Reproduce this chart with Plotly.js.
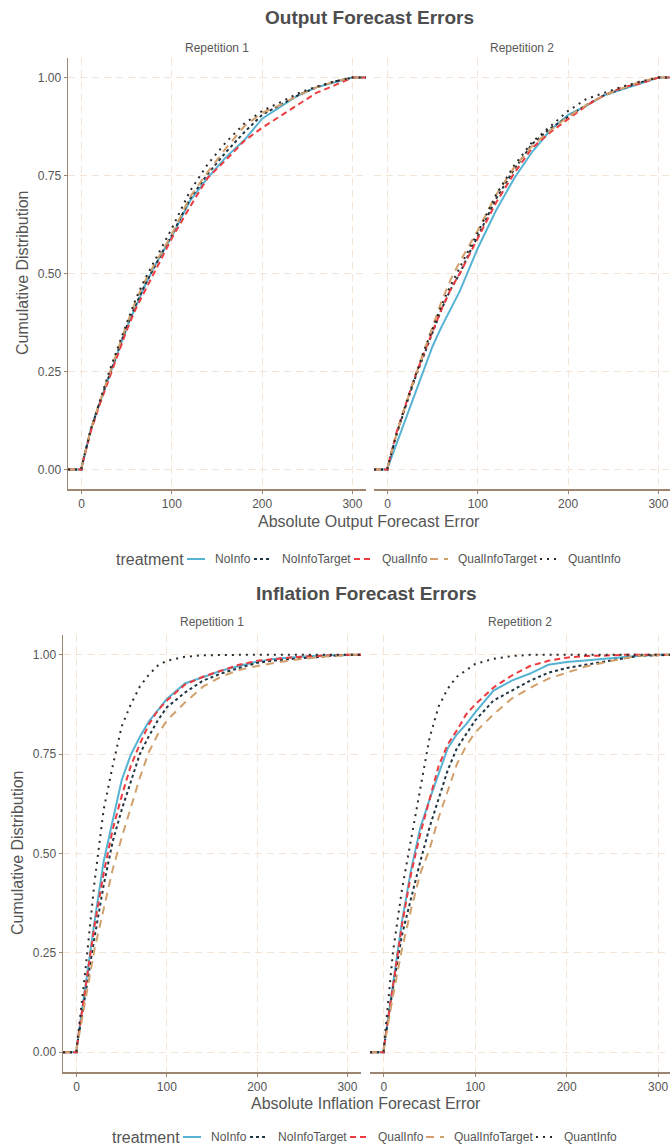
<!DOCTYPE html>
<html>
<head>
<meta charset="utf-8">
<script src="https://cdn.plot.ly/plotly-3.0.1.min.js"></script>
<style>html,body{margin:0;padding:0;background:#fff;}#chart{width:670px;height:1148px;}</style>
</head>
<body>
<div id="chart"></div>
<script>
// ---- data (ECDF readings: cumulative share at each absolute error) ----
const treatments = ["NoInfo", "NoInfoTarget", "QualInfo", "QualInfoTarget", "QuantInfo"];
const errorGrid = [-15, 0, 0, 10, 20, 30, 40, 50, 60, 70, 80, 90, 100, 120, 140, 160, 180, 200, 220, 240, 260, 280, 300, 320];
const xTicks = [0, 100, 200, 300];
const yTicks = [0, 0.25, 0.5, 0.75, 1];
const yTickLabels = ["0.00", "0.25", "0.50", "0.75", "1.00"];
const panelLabels = ["Repetition 1", "Repetition 2"];
const legendTitle = "treatment";

// Output forecast errors, repetition 1
const outRep1_NoInfo         = [0,0,.005,.10,.17,.235,.30,.362,.415,.468,.515,.555,.595,.685,.745,.797,.84,.895,.925,.955,.975,.988,1,1];
const outRep1_NoInfoTarget   = [0,0,.005,.10,.17,.237,.30,.365,.42,.47,.515,.557,.598,.69,.755,.81,.86,.905,.93,.955,.975,.99,1,1];
const outRep1_QualInfo       = [0,0,.005,.095,.165,.23,.295,.355,.41,.455,.50,.545,.59,.67,.745,.79,.838,.872,.902,.933,.961,.98,1,1];
const outRep1_QualInfoTarget = [0,0,.005,.10,.172,.24,.305,.37,.43,.48,.52,.56,.60,.695,.76,.82,.875,.91,.93,.955,.975,.99,1,1];
const outRep1_QuantInfo      = [0,0,.005,.10,.172,.245,.31,.375,.435,.485,.53,.572,.615,.71,.78,.835,.882,.915,.937,.96,.977,.99,1,1];

// Output forecast errors, repetition 2
const outRep2_NoInfo         = [0,0,.003,.065,.13,.19,.255,.315,.365,.41,.455,.51,.565,.66,.742,.81,.865,.905,.928,.955,.97,.985,1,1];
const outRep2_NoInfoTarget   = [0,0,.005,.09,.16,.23,.29,.35,.41,.46,.50,.55,.595,.69,.765,.83,.87,.90,.93,.955,.972,.988,1,1];
const outRep2_QualInfo       = [0,0,.005,.095,.165,.235,.295,.355,.41,.46,.50,.545,.59,.68,.755,.82,.86,.895,.928,.955,.975,.985,1,1];
const outRep2_QualInfoTarget = [0,0,.005,.09,.165,.235,.30,.365,.43,.485,.53,.57,.61,.70,.77,.825,.865,.90,.93,.955,.972,.99,1,1];
const outRep2_QuantInfo      = [0,0,.005,.09,.165,.235,.30,.36,.42,.47,.515,.56,.605,.70,.775,.835,.875,.915,.945,.962,.977,.99,1,1];

// Inflation forecast errors, repetition 1
const infRep1_NoInfo         = [0,0,.008,.17,.33,.48,.585,.685,.748,.793,.832,.862,.889,.928,.945,.96,.972,.983,.99,.994,.997,.999,1,1];
const infRep1_NoInfoTarget   = [0,0,.008,.155,.29,.42,.53,.61,.68,.75,.795,.835,.868,.905,.935,.953,.967,.98,.986,.99,.994,.997,1,1];
const infRep1_QualInfo       = [0,0,.008,.165,.32,.45,.56,.645,.72,.775,.825,.86,.885,.925,.945,.96,.975,.985,.99,.994,.997,.999,1,1];
const infRep1_QualInfoTarget = [0,0,.008,.13,.26,.36,.46,.54,.615,.69,.755,.80,.835,.88,.92,.945,.962,.972,.98,.987,.992,.997,1,1];
const infRep1_QuantInfo      = [0,0,.008,.21,.43,.61,.72,.82,.875,.92,.95,.973,.985,.995,.999,1,1,1,1,1,1,1,1,1];

// Inflation forecast errors, repetition 2
const infRep2_NoInfo         = [0,0,.008,.17,.33,.46,.565,.635,.70,.765,.80,.825,.855,.91,.935,.953,.975,.982,.986,.99,.995,.998,1,1];
const infRep2_NoInfoTarget   = [0,0,.008,.16,.295,.39,.48,.565,.64,.71,.765,.80,.835,.885,.91,.935,.955,.967,.975,.982,.99,.998,1,1];
const infRep2_QualInfo       = [0,0,.008,.165,.32,.45,.55,.635,.72,.775,.81,.85,.875,.918,.948,.972,.985,.993,.997,.998,1,1,1,1];
const infRep2_QualInfoTarget = [0,0,.008,.14,.26,.36,.45,.51,.59,.655,.725,.77,.805,.85,.89,.917,.94,.955,.97,.98,.99,.998,1,1];
const infRep2_QuantInfo      = [0,0,.008,.25,.41,.54,.67,.79,.87,.915,.945,.962,.977,.99,.997,1,1,1,1,1,1,1,1,1];

// ---- styles ----
const seriesStyle = {
  NoInfo:         {color: "#57B3D4", dash: "solid"},
  NoInfoTarget:   {color: "#1F3542", dash: "3px,3px"},
  QualInfo:       {color: "#EE3B3F", dash: "6px,4px"},
  QualInfoTarget: {color: "#D2A06C", dash: "8px,6px"},
  QuantInfo:      {color: "#2A2A2A", dash: "2px,5px"}
};

const panels = [
  {xa: "x",  ya: "y",
   data: [outRep1_NoInfo, outRep1_NoInfoTarget, outRep1_QualInfo, outRep1_QualInfoTarget, outRep1_QuantInfo]},
  {xa: "x2", ya: "y",
   data: [outRep2_NoInfo, outRep2_NoInfoTarget, outRep2_QualInfo, outRep2_QualInfoTarget, outRep2_QuantInfo]},
  {xa: "x3", ya: "y2",
   data: [infRep1_NoInfo, infRep1_NoInfoTarget, infRep1_QualInfo, infRep1_QualInfoTarget, infRep1_QuantInfo]},
  {xa: "x4", ya: "y2",
   data: [infRep2_NoInfo, infRep2_NoInfoTarget, infRep2_QualInfo, infRep2_QualInfoTarget, infRep2_QuantInfo]}
];

const traces = [];
panels.forEach(p => {
  treatments.forEach((t, i) => {
    const st = seriesStyle[t];
    traces.push({
      type: "scatter", mode: "lines",
      x: errorGrid, y: p.data[i],
      xaxis: p.xa, yaxis: p.ya,
      name: t, legendgroup: t, showlegend: false,
      line: {color: st.color, dash: st.dash, width: 2},
      hoverinfo: "skip"
    });
  });
});

// ---- layout ----
const W = 670, H = 1148;
const px = v => v / W;
const py = v => 1 - v / H;
const axisColor = "#9C8670";
const gridColor = "#F3E4D6";
const tickFont = {size: 12, color: "#555555"};

function xAxis(d0, d1, r1, anchor) {
  return {
    domain: [px(d0), px(d1)], range: [-15, r1], anchor: anchor,
    tickvals: xTicks, ticktext: xTicks.map(String),
    showgrid: true, gridcolor: gridColor, griddash: "7px,5px", gridwidth: 1,
    zeroline: false, showline: true, linecolor: axisColor, linewidth: 1.5,
    ticks: "outside", ticklen: 3, tickcolor: axisColor, tickwidth: 1,
    tickfont: tickFont, fixedrange: true
  };
}
function yAxis(top, bottom, anchor) {
  return {
    domain: [py(bottom), py(top)], range: [-0.05, 1.05], anchor: anchor,
    tickvals: yTicks, ticktext: yTickLabels,
    showgrid: true, gridcolor: gridColor, griddash: "7px,5px", gridwidth: 1,
    zeroline: false, showline: true, linecolor: axisColor, linewidth: 1.5,
    ticks: "outside", ticklen: 3, tickcolor: axisColor, tickwidth: 1,
    tickfont: tickFont, fixedrange: true
  };
}

const titleFont = {size: 19, color: "#4D4D4D", weight: "bold"};
const stripFont = {size: 12, color: "#595959"};
const axTitleFont = {size: 16, color: "#555555"};
const legTitleFont = {size: 16, color: "#555555"};
const legItemFont = {size: 12, color: "#555555"};

function ann(text, x, y, font, extra) {
  return Object.assign({text: text, x: px(x), y: py(y), xref: "paper", yref: "paper",
    showarrow: false, xanchor: "center", yanchor: "middle", font: font}, extra || {});
}

const annotations = [
  ann("Output Forecast Errors", 369, 17, titleFont),
  ann(panelLabels[0], 217, 48, stripFont),
  ann(panelLabels[1], 522, 48, stripFont),
  ann("Absolute Output Forecast Error", 369, 522, axTitleFont),
  ann("Cumulative Distribution", 22, 273, axTitleFont, {textangle: -90}),
  ann("Inflation Forecast Errors", 366, 593, titleFont),
  ann(panelLabels[0], 212, 622, stripFont),
  ann(panelLabels[1], 520, 622, stripFont),
  ann("Absolute Inflation Forecast Error", 366, 1103, axTitleFont),
  ann("Cumulative Distribution", 18, 853, axTitleFont, {textangle: -90})
];
const shapes = [];

// ---- legend (ggplot-style, drawn below each figure) ----
const legendTitleX = 114;
const legendKeyX = [187, 254, 354, 430, 540];   // left edge of each key
const legendTextGap = 26;                        // key start -> label start
const legendKeyLen = 18;
function addLegend(yCenter, shift) {
  annotations.push(ann(legendTitle, legendTitleX + shift, yCenter, legTitleFont, {xanchor: "left"}));
  treatments.forEach((t, i) => {
    const st = seriesStyle[t];
    const x0 = legendKeyX[i] + shift;
    shapes.push({type: "line", xref: "paper", yref: "paper",
      x0: px(x0), x1: px(x0 + legendKeyLen), y0: py(yCenter), y1: py(yCenter),
      line: {color: st.color, dash: st.dash, width: 2}});
    annotations.push(ann(t, x0 + legendTextGap, yCenter, legItemFont, {xanchor: "left"}));
  });
}
addLegend(559, 0);
addLegend(1137, -4);

const layout = {
  width: W, height: H,
  margin: {l: 0, r: 0, t: 0, b: 0},
  paper_bgcolor: "#FFFFFF", plot_bgcolor: "#FFFFFF",
  font: {family: "Liberation Sans, Arial, sans-serif", color: "#4D4D4D"},
  xaxis:  xAxis(68, 366, 315, "y"),
  xaxis2: xAxis(374, 670, 312.8, "y"),
  xaxis3: xAxis(63, 361, 315, "y2"),
  xaxis4: xAxis(370, 670, 313, "y2"),
  yaxis:  yAxis(58, 489, "x"),
  yaxis2: yAxis(635, 1072, "x3"),
  annotations: annotations,
  shapes: shapes,
  showlegend: false
};

Plotly.newPlot("chart", traces, layout, {displayModeBar: false, staticPlot: true});
</script>
</body>
</html>
